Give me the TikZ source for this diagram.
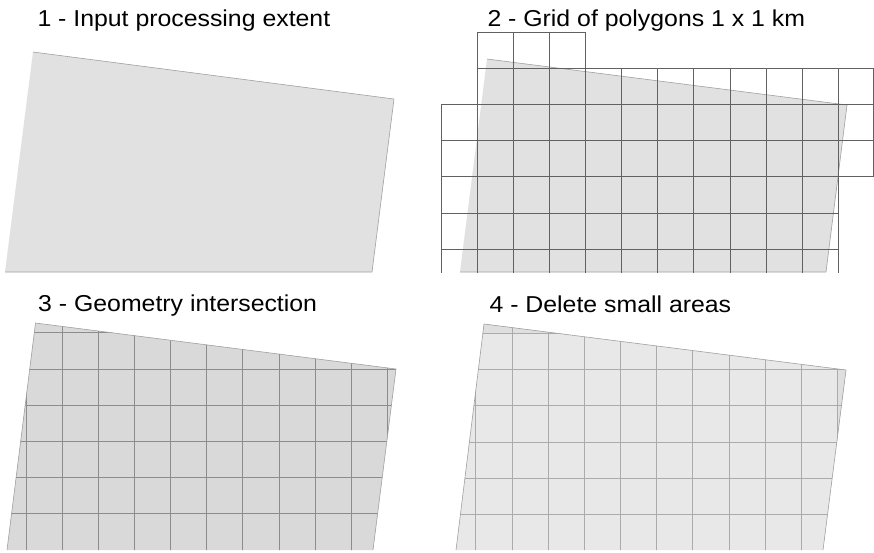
\documentclass[tikz,border=0pt]{standalone}
\usepackage{fontspec}
\setmainfont{Liberation Sans}
\definecolor{shapeA}{HTML}{E1E1E1}
\definecolor{shapeC}{HTML}{D9D9D9}
\definecolor{shapeD}{HTML}{E8E8E8}
\definecolor{sliverD}{HTML}{DFDFDF}
\definecolor{edgecol}{HTML}{A0A0A0}
\newcommand\ttlwide[1]{\scalebox{1.08}[1]{#1}}
\begin{document}
\begin{tikzpicture}[x=1pt,y=-1pt,
  title/.style={anchor=base west, inner sep=0pt, text=black,
    font=\fontsize{23}{27}\selectfont},
  outline/.style={draw=edgecol, line width=0.6pt, line join=round},
  gridtwo/.style={draw=black!62, line width=0.6pt},
  gridthree/.style={draw=black!45, line width=0.6pt},
  gridfour/.style={draw=black!33, line width=0.6pt}]
\useasboundingbox (0,0) rectangle (874,552);
\fill[white] (0,0) rectangle (874,552);

% ---------- titles ----------
\node[title] (t1) at (37.3,26)  {\ttlwide{1 - Input processing extent}};
\node[title] (t2) at (487.3,26) {\ttlwide{2 - Grid of polygons 1 x 1 km}};
\node[title] (t3) at (38,311.5) {\ttlwide{3 - Geometry intersection}};
\node[title] (t4) at (489.4,312){\ttlwide{4 - Delete small areas}};

% ---------- 1: processing extent ----------
\path[fill=shapeA, outline] (33,52) -- (394,99) -- (372,272) -- (5,272);

% ---------- 2: extent with the 1 km grid ----------
\path[fill=shapeA, outline] (487,59) -- (847,105) -- (826,272) -- (460,272);
\begin{scope}
  \clip (0,0) rectangle (874,272);
  % horizontal grid lines
  \draw[gridtwo] (477.1,32.3)  -- (585.4,32.3);
  \draw[gridtwo] (477.1,68.4)  -- (873.6,68.4);
  \foreach \y in {104.5,140.6,176.7}
    \draw[gridtwo] (441,\y) -- (873.6,\y);
  \foreach \y in {212.8,248.9}
    \draw[gridtwo] (441,\y) -- (838.1,\y);
  % vertical grid lines
  \draw[gridtwo] (441,104.5) -- (441,280);
  \foreach \x in {477.1,513.2,549.3,585.4}
    \draw[gridtwo] (\x,32.3) -- (\x,280);
  \foreach \x in {621.5,657.6,693.7,729.8,765.9,802,838.1}
    \draw[gridtwo] (\x,68.4) -- (\x,280);
  \draw[gridtwo] (873.6,68.4) -- (873.6,176.7);
\end{scope}

% ---------- 3: intersection ----------
\path[fill=shapeC] (35.5,323) -- (396,369) -- (373,550) -- (7,550) -- cycle;
\begin{scope}
  \clip (35.5,323) -- (396,369) -- (373,550) -- (7,550) -- cycle;
  \foreach \i in {0,...,10}
    \draw[gridthree] ({26+36.13*\i},300) -- ({26+36.13*\i},560);
  \foreach \j in {0,...,5}
    \draw[gridthree] (0,{332.7+36.1*\j}) -- (420,{332.7+36.1*\j});
\end{scope}
\path[outline] (7,550) -- (35.5,323) -- (396,369) -- (373,550);

% ---------- 4: small areas removed ----------
\path[fill=shapeD] (484,324) -- (846,370) -- (823,550) -- (456,550) -- cycle;
\begin{scope}
  \clip (484,324) -- (846,370) -- (823,550) -- (456,550) -- cycle;
  \fill[sliverD] (440,300) rectangle (874,333.3);
  \fill[sliverD] (837.4,300) rectangle (874,560);
  \foreach \i in {0,...,10}
    \draw[gridfour] ({475.7+36.17*\i},300) -- ({475.7+36.17*\i},560);
  \foreach \j in {0,...,5}
    \draw[gridfour] (440,{333.3+36.2*\j}) -- (874,{333.3+36.2*\j});
\end{scope}
\path[outline] (456,550) -- (484,324) -- (846,370) -- (823,550);
\end{tikzpicture}
\end{document}
